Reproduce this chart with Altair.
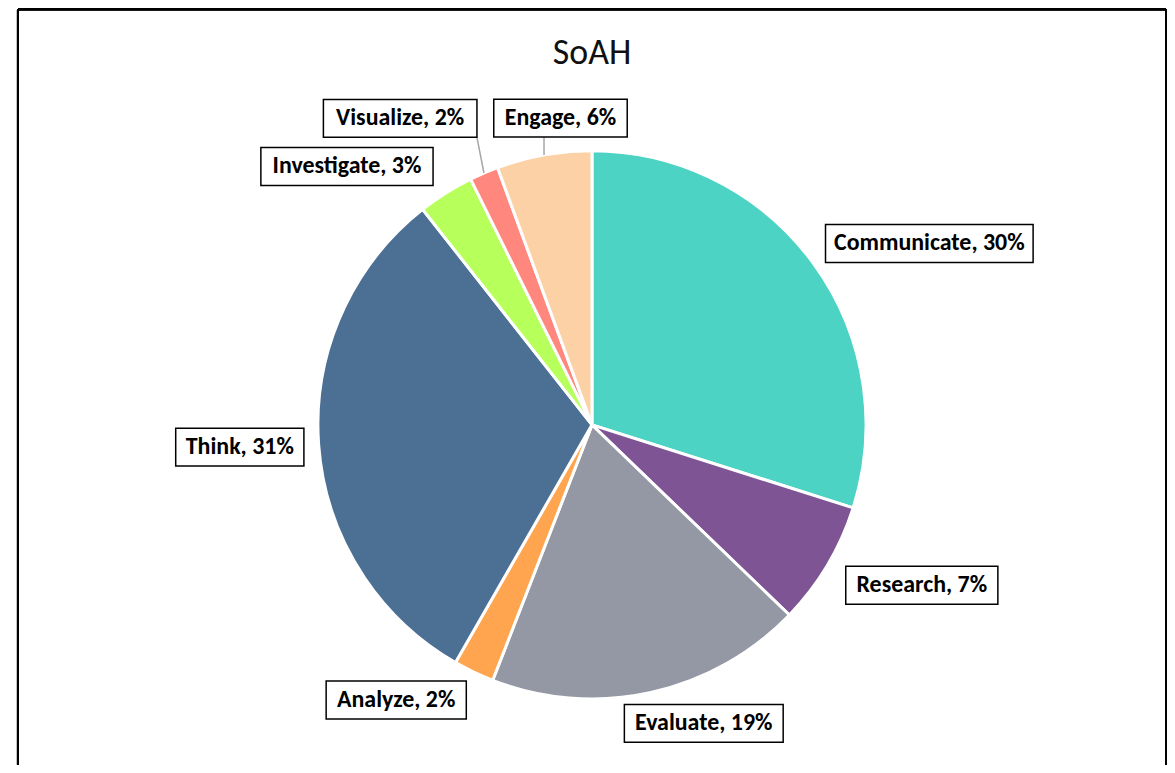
import altair as alt
import pandas as pd

# ---- data ----
categories = ["Communicate", "Research", "Evaluate", "Analyze", "Think",
              "Investigate", "Visualize", "Engage"]
values = [29.9, 7.3, 18.7, 2.4, 31.1, 3.3, 1.7, 5.6]
colors = ["#4DD3C4", "#7F5494", "#9497A4", "#FFA54F", "#4C6F94",
          "#B7FF5A", "#FF877D", "#FDD1A6"]
title_text = "SoAH"

# ---- label layout (Excel-style best-fit tweaks) ----
label_gap = [30, 30, 20, 30, 15, 36, 55, 15]        # px beyond the rim
label_nudge = [2, -1, -5, 6, 0, -6, -5, 5]          # degrees
leader_cats = ["Visualize", "Engage"]

CX, CY, R = 586, 417, 275
BOX_H = 38
BOX_PAD = 18
FS = 24
# rough glyph-width classes for a Calibri-like bold face (em units * size)
W_NARROW, W_NORMAL, W_WIDE = 0.28 * FS, 0.50 * FS, 0.77 * FS
FONT = "Carlito, Calibri, 'Liberation Sans Narrow', 'Arial Narrow', 'DejaVu Sans Condensed', sans-serif"

df = pd.DataFrame({
    "idx": list(range(len(categories))),
    "cat": categories,
    "value": values,
    "gap": label_gap,
    "nudge": label_nudge,
})

base = alt.Chart(df)

pie = base.mark_arc(outerRadius=R, stroke="white", strokeWidth=3).encode(
    theta=alt.Theta("value:Q", stack=True),
    order=alt.Order("idx:Q"),
    color=alt.Color("cat:N", scale=alt.Scale(domain=categories, range=colors), legend=None),
    x=alt.value(CX),
    y=alt.value(CY),
)

lab = base.transform_window(
    cum="sum(value)", sort=[alt.SortField("idx")], frame=[None, 0]
).transform_joinaggregate(
    total="sum(value)"
).transform_calculate(
    mid0="(datum.cum - datum.value/2)/datum.total*2*PI",
).transform_calculate(
    mid="datum.mid0 + datum.nudge*PI/180",
    label="datum.cat + ', ' + format(datum.value/datum.total, '.0%')",
).transform_calculate(
    n_wide="length(replace(datum.label, regexp('[^mMwW%]', 'g'), ''))",
    n_narrow="length(replace(datum.label, regexp('[^iltIrfj,. ]', 'g'), ''))",
).transform_calculate(
    ax=f"{CX} + ({R} + datum.gap)*sin(datum.mid)",
    ay=f"{CY} - ({R} + datum.gap)*cos(datum.mid)",
    w=(f"datum.n_wide*{W_WIDE} + datum.n_narrow*{W_NARROW} + "
       f"(length(datum.label) - datum.n_wide - datum.n_narrow)*{W_NORMAL} + {BOX_PAD}"),
    ex=f"{CX} + {R}*sin(datum.mid0)",
    ey=f"{CY} - {R}*cos(datum.mid0)",
).transform_calculate(
    bx="datum.ax + sin(datum.mid)*datum.w/2",
    by=f"datum.ay - cos(datum.mid)*{BOX_H}/2",
).transform_calculate(
    x1="datum.bx - datum.w/2",
    x2="datum.bx + datum.w/2",
    y1=f"datum.by - {BOX_H}/2",
    y2=f"datum.by + {BOX_H}/2",
).transform_calculate(
    lx="clamp(datum.ex, datum.x1, datum.x2)",
    ly="clamp(datum.ey, datum.y1, datum.y2)",
)

leaders = lab.transform_filter(
    alt.FieldOneOfPredicate(field="cat", oneOf=leader_cats)
).mark_rule(color="#A6A6A6", strokeWidth=1.5).encode(
    x=alt.X("ex:Q", scale=None), y=alt.Y("ey:Q", scale=None),
    x2="lx:Q", y2="ly:Q",
)

boxes = lab.mark_rect(fill="white", stroke="black", strokeWidth=1.5).encode(
    x=alt.X("x1:Q", scale=None), x2="x2:Q",
    y=alt.Y("y1:Q", scale=None), y2="y2:Q",
)

texts = lab.mark_text(font=FONT, fontSize=FS, fontWeight="bold", color="black",
                      align="center", baseline="middle").encode(
    x=alt.X("bx:Q", scale=None), y=alt.Y("by:Q", scale=None),
    text="label:N",
)

title = alt.Chart(pd.DataFrame({"t": [title_text]})).mark_text(
    font=FONT, fontSize=36, color="#111111", align="center", baseline="alphabetic"
).encode(x=alt.value(CX), y=alt.value(55), text="t:N")

frame_top = base.mark_rule(color="black", strokeWidth=2).encode(
    x=alt.value(10), x2=alt.value(1162), y=alt.value(0))
frame_left = base.mark_rule(color="black", strokeWidth=2).encode(
    x=alt.value(10), y=alt.value(0), y2=alt.value(770))
frame_right = base.mark_rule(color="black", strokeWidth=2).encode(
    x=alt.value(1162), y=alt.value(0), y2=alt.value(770))

chart = alt.layer(
    pie, leaders, boxes, texts, title, frame_top, frame_left, frame_right
).properties(
    width=1163, height=757, padding=0, autosize=alt.AutoSizeParams(type="none")
).configure_view(stroke=None)

chart.save("out.html", embed_options={"renderer": "svg", "actions": False})
